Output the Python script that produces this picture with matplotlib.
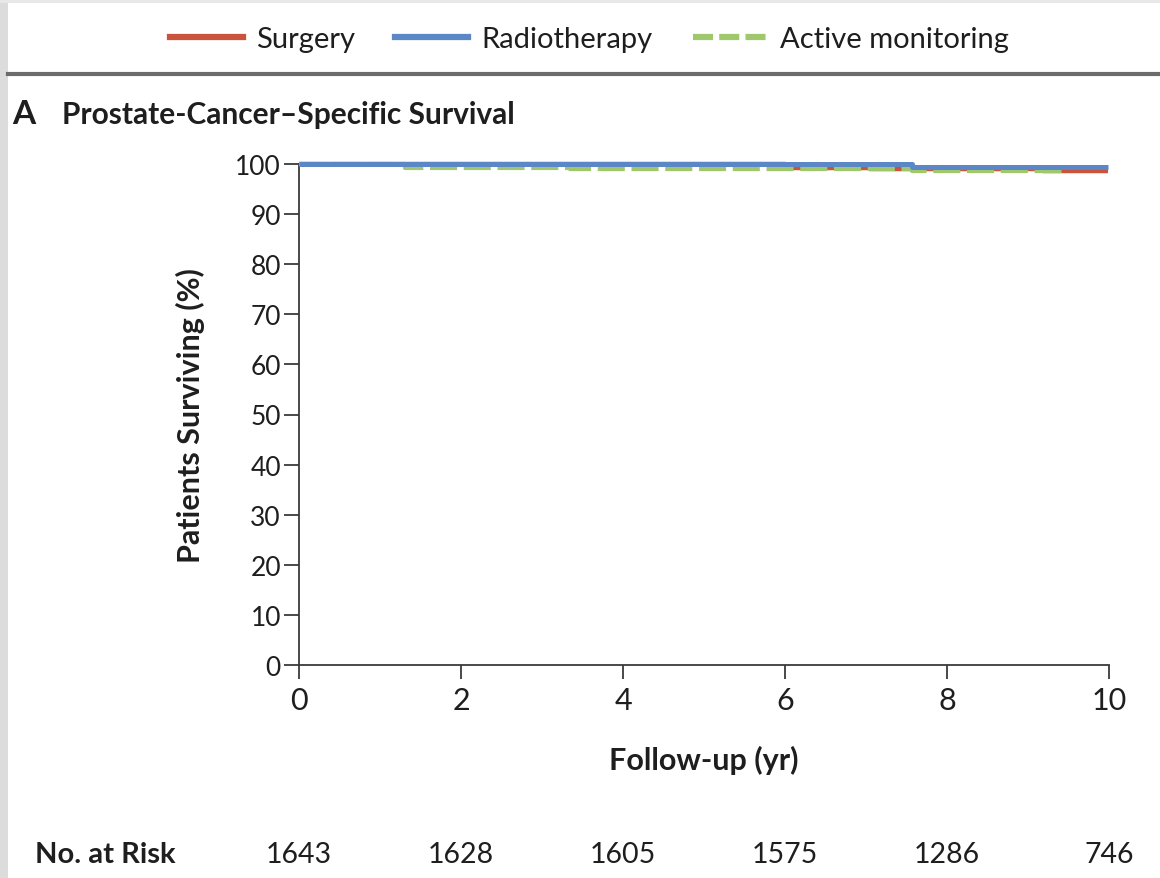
import matplotlib
matplotlib.use('Agg')
import matplotlib.pyplot as plt
from matplotlib.lines import Line2D
from matplotlib.patches import Rectangle

plt.rcParams['font.family'] = ['Lato', 'DejaVu Sans']

# Kaplan-Meier steps: time of each change (yr) and survival (%) from that time on
surgery_t = [0.0, 6.0, 7.05, 9.19, 9.99]
surgery_s = [100.0, 99.3, 99.0, 98.6, 98.6]
radio_t = [0.0, 7.57, 9.99]
radio_s = [100.0, 99.5, 99.5]
monitor_t = [0.0, 1.31, 3.35, 7.57, 9.43]
monitor_s = [100.0, 99.3, 99.0, 98.6, 98.6]

risk_years = [0, 2, 4, 6, 8, 10]
at_risk = [1643, 1628, 1605, 1575, 1286, 746]

RED = '#c9533b'
BLUE = '#5b87c6'
GREEN = '#9fc86c'
AXIS = '#3a3a3a'
INK = '#1e1e1e'

fig = plt.figure(figsize=(11.6, 8.79), dpi=100)
fig.patch.set_facecolor('white')

# page frame: grey strips left/top and the rule under the legend
fig.add_artist(Rectangle((0, 0), 8 / 1160, 1, transform=fig.transFigure,
                         facecolor='#dcdcdc', edgecolor='none'))
fig.add_artist(Rectangle((0, 1 - 4 / 879), 1, 4 / 879, transform=fig.transFigure,
                         facecolor='#e8e8e8', edgecolor='none'))
fig.add_artist(Line2D([8 / 1160, 1], [1 - 75 / 879] * 2, transform=fig.transFigure,
                      color='#6b6b6b', linewidth=3))

ax = fig.add_axes([299 / 1160, 1 - 666 / 879, 810 / 1160, 501 / 879])

ax.step(surgery_t, surgery_s, where='post', color=RED, linewidth=3.2,
        label='Surgery', solid_capstyle='butt', zorder=3, clip_on=False)
ax.step(monitor_t, monitor_s, where='post', color=GREEN, linewidth=3.0,
        dashes=(6.5, 1.6), label='Active monitoring', zorder=4, clip_on=False)
ax.step(radio_t, radio_s, where='post', color=BLUE, linewidth=3.6,
        label='Radiotherapy', solid_capstyle='butt', zorder=5, clip_on=False)

ax.set_xlim(0, 10)
ax.set_ylim(0, 100)
ax.set_xticks(range(0, 11, 2))
ax.set_yticks(range(0, 101, 10))

for side in ['top', 'right']:
    ax.spines[side].set_visible(False)
for side in ['left', 'bottom']:
    ax.spines[side].set_color(AXIS)
    ax.spines[side].set_linewidth(1.3)
    ax.spines[side].set_zorder(2)

ax.tick_params(axis='y', length=11, width=1.3, color=AXIS, pad=2)
ax.tick_params(axis='x', length=10, width=1.3, color=AXIS, pad=5)
for lbl in ax.get_yticklabels():
    lbl.set_fontsize(19)
    lbl.set_color(INK)
for lbl in ax.get_xticklabels():
    lbl.set_fontsize(22)
    lbl.set_color(INK)

ax.set_ylabel('Patients Surviving (%)', fontsize=22, fontweight='bold', color=INK)
ax.yaxis.set_label_coords(-0.116, 0.5)
ax.set_xlabel('Follow-up (yr)', fontsize=22, fontweight='bold', color=INK)
ax.xaxis.set_label_coords(0.5, -0.16)

fig.text(12 / 1160, 1 - 115 / 879, 'A', fontsize=24, fontweight='bold',
         color=INK, va='center', ha='left')
fig.text(62 / 1160, 1 - 115 / 879, 'Prostate-Cancer\u2013Specific Survival',
         fontsize=21.5, fontweight='bold', color=INK, va='center', ha='left')

# number at risk row under the x axis
risk_y = 1 - 855 / 879
fig.text(35 / 1160, risk_y, 'No. at Risk', fontsize=21, fontweight='bold',
         color=INK, va='center', ha='left')
for yr, n in zip(risk_years, at_risk):
    ax.annotate(str(n), xy=(yr, 0), xytext=(yr, risk_y),
                textcoords=('data', 'figure fraction'),
                fontsize=20.5, color=INK, ha='center', va='center',
                annotation_clip=False)

handles = [
    Line2D([], [], color=RED, linewidth=4.5),
    Line2D([], [], color=BLUE, linewidth=4.5),
    Line2D([], [], color=GREEN, linewidth=4.5, dashes=(3.2, 1.0)),
]
fig.legend(handles, ['Surgery', 'Radiotherapy', 'Active monitoring'],
           loc='center', bbox_to_anchor=(589 / 1160, 1 - 40 / 879), ncol=3,
           frameon=False, fontsize=21, handlelength=2.5, handletextpad=0.45,
           columnspacing=1.4, labelcolor=INK)

fig.savefig('out.png', dpi=100)
